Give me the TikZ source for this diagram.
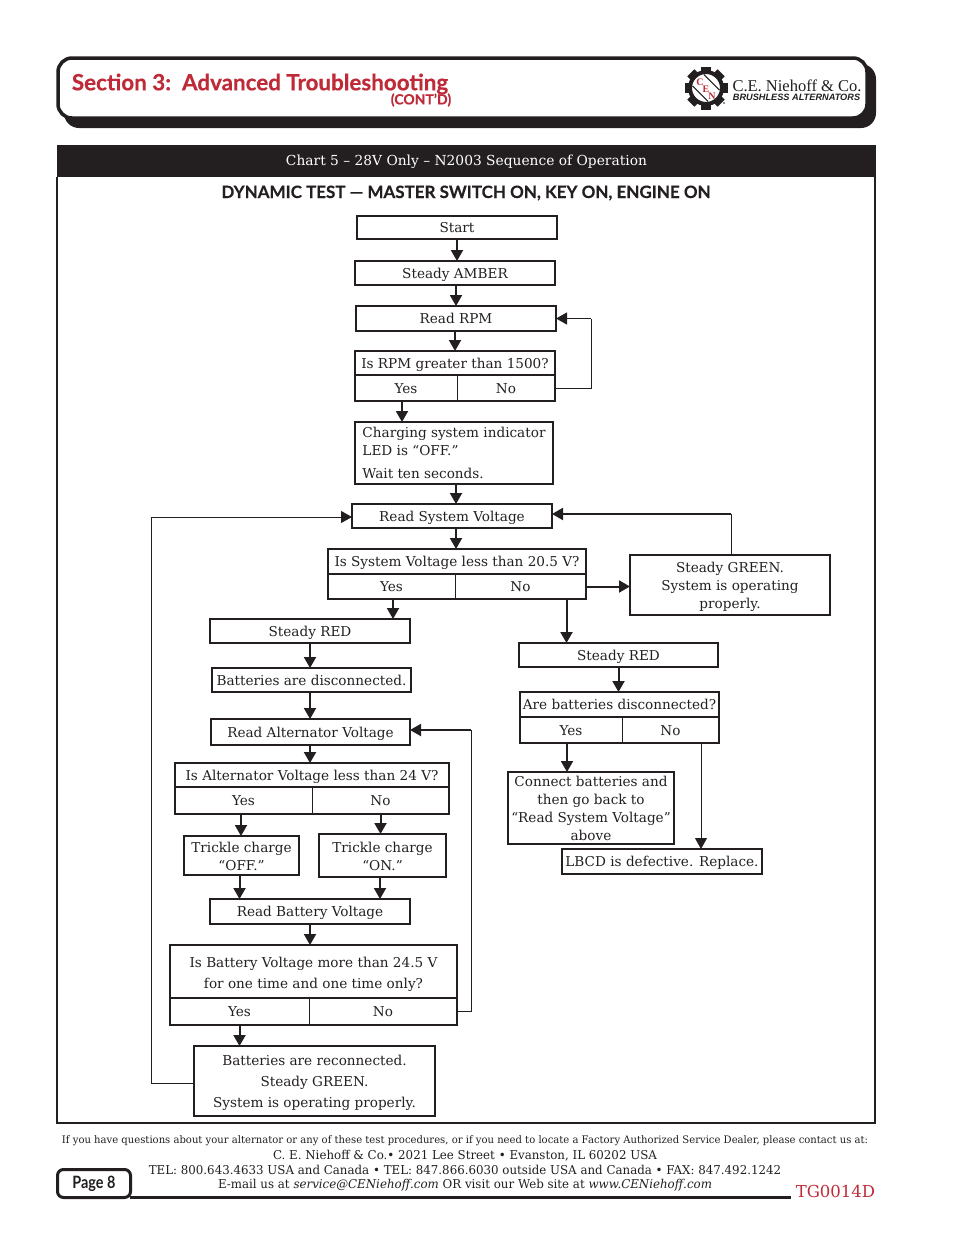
\documentclass[tikz,border=0pt]{standalone}
\usepackage{fontspec}
\setmainfont{DejaVu Serif}
\newfontfamily\footfont[FakeStretch=0.97]{DejaVu Serif}
\newfontfamily\headfont[BoldFeatures={FakeBold=0.3}]{Lato}
\newfontfamily\pagefont[FakeStretch=0.85]{Lato}
\newfontfamily\logofont{Liberation Serif}
\newfontfamily\logosans{Liberation Sans}
\usetikzlibrary{arrows.meta,calc}
\definecolor{INK}{HTML}{231F20}
\definecolor{CRIMSON}{HTML}{BE2A38}
\begin{document}
\begin{tikzpicture}[x=1pt,y=-1pt]
\tikzset{flow/.style={-{Triangle[length=11pt,width=12pt]},line width=2pt,INK},
 flowthin/.style={-{Triangle[length=11pt,width=12pt]},line width=1pt,INK},
 link/.style={line width=1pt,INK},frm/.style={line width=2pt,INK},
 bx/.style={draw=INK,line width=2pt,inner sep=0pt,outer sep=0pt,font=\fontsize{13.6}{18}\selectfont,text=INK,text height=11.5pt,text depth=1.5pt},
 mbx/.style={draw=INK,line width=2pt,inner sep=0pt,outer sep=0pt,font=\fontsize{13.6}{18}\selectfont,text=INK,align=center},
 cell/.style={draw=INK,line width=1pt,inner sep=0pt,outer sep=0pt,font=\fontsize{13.6}{18}\selectfont,text=INK,text height=11.5pt,text depth=1.5pt},
 plain/.style={inner sep=0pt,text=INK},
 cen/.style={plain,CRIMSON,font=\logofont\bfseries\fontsize{10}{10}\selectfont}}
\useasboundingbox (0,0) rectangle (954,1235);
\fill[INK] (64,64) [rounded corners=15pt] rectangle (876,128);
\draw[fill=white,draw=INK,line width=3.5pt,rounded corners=14pt] (58,58) rectangle (867,118);
\node[plain,CRIMSON,font=\headfont\bfseries\fontsize{22.4}{24}\selectfont] (sectitle) at (260,84) {Section 3:\, Advanced Troubleshooting};
\node[plain,CRIMSON,font=\headfont\bfseries\fontsize{14}{14}\selectfont] (contd) at (421,100) {(CONT’D)};
\foreach \a in {0,45,...,315}
  \fill[INK,rotate around={\a:(706,88)}] (701,66.5) rectangle (711,74);
\draw[INK,fill=white,line width=4pt] (706,88) circle (16pt);
\draw[INK,line width=1pt] (692.5,85.9)--(708.1,101.5) (703.9,74.5)--(719.5,90.1);
\node[cen] (cenc) at (700,82) {C};
\node[cen] (cene) at (706,89) {E};
\node[cen] (cenn) at (712,96) {N};
\fill[INK] (724,103) circle (0.8pt);
\node[plain,INK,font=\logofont\fontsize{16.5}{17}\selectfont] (coname) at (797,86) {C.E. Niehoff \& Co.};
\node[plain,INK,font=\logosans\bfseries\itshape\fontsize{9.2}{9}\selectfont] (cotag) at (796.5,97) {BRUSHLESS ALTERNATORS};
\draw[frm] (57,177)--(57,1123)--(875,1123)--(875,177);
\node[fill=INK,inner sep=0pt,minimum width=819pt,minimum height=32pt,text=white,text height=11pt,text depth=2pt,font=\fontsize{13.8}{16}\selectfont] (band) at (466.5,161) {Chart 5 -- 28V Only -- N2003 Sequence of Operation};
\node[plain,font=\headfont\bfseries\fontsize{17}{18}\selectfont] (subtitle) at (466,193) {DYNAMIC TEST — MASTER SWITCH ON, KEY ON, ENGINE ON};

\node[bx,minimum width=200pt,minimum height=23pt] (start) at (457,227.5) {Start};
\node[bx,minimum width=200pt,minimum height=24pt] (amber) at (455,273) {Steady AMBER};
\node[bx,minimum width=200pt,minimum height=25pt] (rpm) at (456,318.5) {Read RPM};
\node[bx,minimum width=200pt,minimum height=24pt] (rpmq) at (455,363) {Is RPM greater than 1500?};
\node[cell,minimum width=102pt,minimum height=26pt] (rpmyes) at (406,388) {Yes};
\node[cell,minimum width=98pt,minimum height=26pt] (rpmno) at (506,388) {No};
\draw[frm] (rpmq.south west) rectangle (rpmno.south east);
\node[mbx,align=left,minimum width=198pt,minimum height=62pt] (led) at (454,453) {Charging system indicator\\LED is “OFF.”\\[5pt]Wait ten seconds.};

\node[bx,minimum width=200pt,minimum height=24pt] (rsv) at (452,516) {Read System Voltage};
\node[bx,minimum width=258pt,minimum height=25pt] (svq) at (457,561.5) {Is System Voltage less than 20.5 V?};
\node[cell,minimum width=127pt,minimum height=25pt] (svyes) at (391.5,586.5) {Yes};
\node[cell,minimum width=131pt,minimum height=25pt] (svno) at (520.5,586.5) {No};
\draw[frm] (svq.south west) rectangle (svno.south east);
\node[mbx,minimum width=200pt,minimum height=60pt] (green) at (730,585) {\rule{0pt}{14pt}Steady GREEN.\\System is operating\\properly.};

\node[bx,minimum width=200pt,minimum height=24pt] (redl) at (310,631) {Steady RED};
\node[bx,minimum width=199pt,minimum height=24pt] (batoff) at (311.5,680) {Batteries are disconnected.};
\node[bx,minimum width=199pt,minimum height=26pt] (ralt) at (310.5,732) {Read Alternator Voltage};
\node[bx,minimum width=274pt,minimum height=24pt] (altq) at (312,775) {Is Alternator Voltage less than 24 V?};
\node[cell,minimum width=137pt,minimum height=27pt] (altyes) at (243.5,800.5) {Yes};
\node[cell,minimum width=137pt,minimum height=27pt] (altno) at (380.5,800.5) {No};
\draw[frm] (altq.south west) rectangle (altno.south east);
\node[mbx,minimum width=115pt,minimum height=39pt] (tkoff) at (241.5,855.5) {\rule{0pt}{12pt}Trickle charge\\“OFF.”};
\node[mbx,minimum width=127pt,minimum height=43pt] (tkon) at (382.5,855.5) {\rule{0pt}{12pt}Trickle charge\\“ON.”};
\node[bx,minimum width=200pt,minimum height=25pt] (rbat) at (310,911.5) {Read Battery Voltage};
\node[mbx,minimum width=287pt,minimum height=53pt,font=\fontsize{13.6}{21}\selectfont] (batq) at (313.5,971.5) {\rule{0pt}{16pt}Is Battery Voltage more than 24.5 V\\for one time and one time only?};
\node[cell,minimum width=139pt,minimum height=27pt] (batyes) at (239.5,1011.5) {Yes};
\node[cell,minimum width=148pt,minimum height=27pt] (batno) at (383,1011.5) {No};
\draw[frm] (batq.south west) rectangle (batno.south east);
\node[mbx,minimum width=241pt,minimum height=70pt,font=\fontsize{13.6}{21}\selectfont] (recon) at (314.5,1081) {\rule{0pt}{14pt}Batteries are reconnected.\\Steady GREEN.\\System is operating properly.};

\node[bx,minimum width=199pt,minimum height=24pt] (redr) at (618.5,655) {Steady RED};
\node[bx,minimum width=199pt,minimum height=25pt] (areq) at (619.5,704.5) {Are batteries disconnected?};
\node[cell,minimum width=102pt,minimum height=26pt] (areyes) at (571,730) {Yes};
\node[cell,minimum width=97pt,minimum height=26pt] (areno) at (670.5,730) {No};
\draw[frm] (areq.south west) rectangle (areno.south east);
\node[mbx,minimum width=166pt,minimum height=72pt] (connect) at (591,808) {Connect batteries and\\then go back to\\“Read System Voltage”\\above};
\node[bx,minimum width=200pt,minimum height=25pt] (lbcd) at (662,861.5) {LBCD is defective. Replace.};

\coordinate (rpmturn) at (591,318.5);
\coordinate (greenturn) at (731,514);
\coordinate (batturn) at (471,730);
\coordinate (reconturn) at (151,517);

\draw[flow] (start.south) -- (start.south |- amber.north);
\draw[flow] ([xshift=1pt]amber.south) -- ([xshift=1pt]amber.south |- rpm.north);
\draw[flow] ([xshift=-1pt]rpm.south) -- ([xshift=-1pt]rpm.south |- rpmq.north);
\draw[flow] ([xshift=-4pt]rpmyes.south) -- ([xshift=-4pt]rpmyes.south |- led.north);
\draw[link] (rpmno.east) -| (rpmturn);
\draw[flowthin] (rpmturn) -- (rpm.east);
\draw[flow] ([xshift=2pt]led.south) -- ([xshift=2pt]led.south |- rsv.north);
\draw[flow] ([xshift=4pt]rsv.south) -- ([xshift=4pt]rsv.south |- svq.north);
\draw[flow] ([xshift=1.5pt]svyes.south) -- ([xshift=1.5pt]svyes.south |- redl.north);
\draw[flow] (svno.east) -- (svno.east -| green.west);
\draw[flow] ([xshift=46pt]svno.south) -- ([xshift=46pt]svno.south |- redr.north);
\draw[link] ([xshift=1pt]green.north) -- (greenturn);
\draw[flow] (greenturn) -- (greenturn -| rsv.east);
\draw[flow] (redl.south) -- (redl.south |- batoff.north);
\draw[flow] ([xshift=-1.5pt]batoff.south) -- ([xshift=-1.5pt]batoff.south |- ralt.north);
\draw[flow] ([xshift=-.5pt]ralt.south) -- ([xshift=-.5pt]ralt.south |- altq.north);
\draw[flow] ([xshift=-2.5pt]altyes.south) -- ([xshift=-2.5pt]altyes.south |- tkoff.north);
\draw[flow] (altno.south) -- (altno.south |- tkon.north);
\draw[flow] ([xshift=-2pt]tkoff.south) -- ([xshift=-2pt]tkoff.south |- rbat.north);
\draw[flow] ([xshift=-2.5pt]tkon.south) -- ([xshift=-2.5pt]tkon.south |- rbat.north);
\draw[flow] (rbat.south) -- (rbat.south |- batq.north);
\draw[flow] (batyes.south) -- (batyes.south |- recon.north);
\draw[link] (batno.east) -| (batturn);
\draw[flow] (batturn) -- (batturn -| ralt.east);
\draw[link] ([yshift=-2pt]recon.west) -| (reconturn);
\draw[flowthin] (reconturn) -- (reconturn -| rsv.west);
\draw[flow] (redr.south) -- (redr.south |- areq.north);
\draw[flow] ([xshift=-4pt]areyes.south) -- ([xshift=-4pt]areyes.south |- connect.north);
\draw[flowthin] ([xshift=30.5pt]areno.south) -- ([xshift=30.5pt]areno.south |- lbcd.north);

\node[plain,font=\footfont\fontsize{10.35}{12}\selectfont] (foot1) at (465,1141) {If you have questions about your alternator or any of these test procedures, or if you need to locate a Factory Authorized Service Dealer, please contact us at:};
\node[plain,font=\footfont\fontsize{12.2}{12}\selectfont] (foot2) at (465,1155.5) {C. E. Niehoff \& Co.• 2021 Lee Street • Evanston, IL 60202 USA};
\node[plain,font=\footfont\fontsize{12.2}{12}\selectfont] (foot3) at (465,1170) {TEL: 800.643.4633 USA and Canada • TEL: 847.866.6030 outside USA and Canada • FAX: 847.492.1242};
\node[plain,font=\footfont\fontsize{12.2}{12}\selectfont] (foot4) at (465,1185.5) {E-mail us at \textit{service@CENiehoff.com} OR visit our Web site at \textit{www.CENiehoff.com}};
\draw[INK,line width=3pt] (130,1197.5) -- (791,1197.5);
\node[draw=INK,fill=white,line width=3pt,rounded corners=6pt,minimum width=73pt,minimum height=28pt,inner sep=0pt,outer sep=0pt,text=INK,font=\pagefont\bfseries\fontsize{17}{18}\selectfont] (pagebox) at (94,1183.5) {Page 8};
\node[plain,CRIMSON,font=\fontsize{16.5}{18}\selectfont] (docno) at (835.5,1191) {TG0014D};
\end{tikzpicture}
\end{document}
